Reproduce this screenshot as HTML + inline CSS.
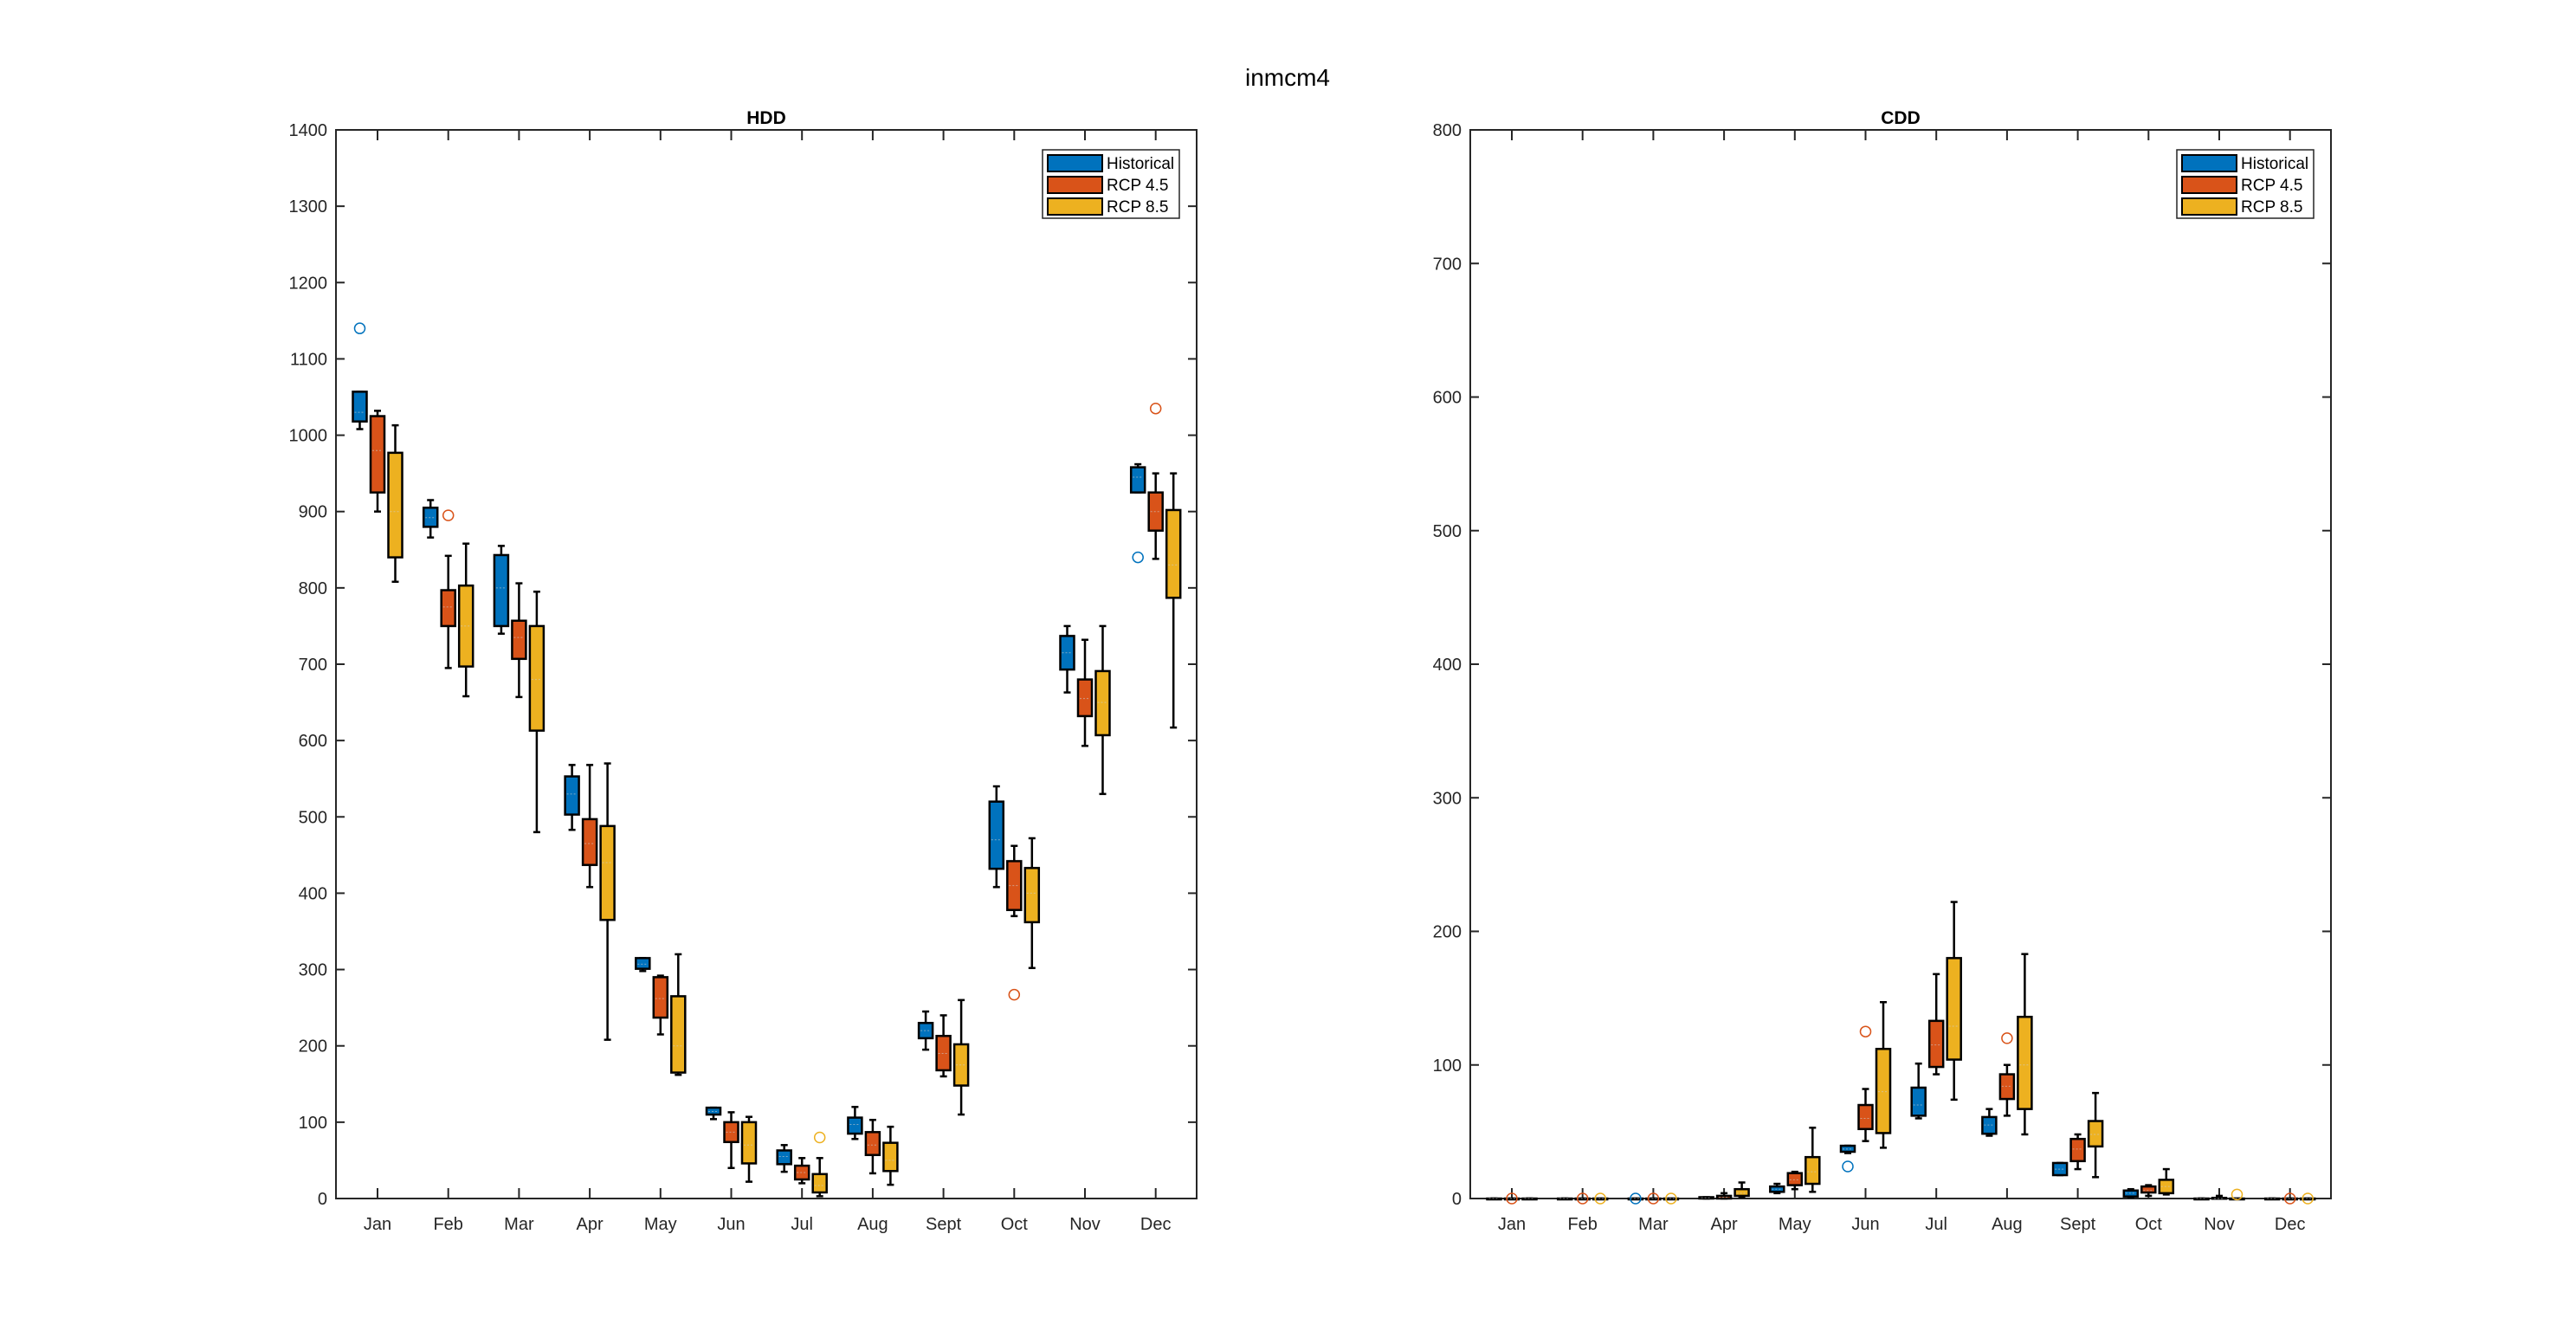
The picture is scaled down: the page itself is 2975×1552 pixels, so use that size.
<!DOCTYPE html>
<html><head><meta charset="utf-8"><style>
html,body{margin:0;padding:0;background:#fff;}
svg{display:block;font-family:"Liberation Sans",sans-serif;}
</style></head><body>
<svg id="fig" width="2975" height="1552" viewBox="0 0 2975 1552">
<rect width="2975" height="1552" fill="#fff"/>
<text x="1487" y="99" font-size="28" text-anchor="middle" fill="#000">inmcm4</text>
</svg>
<script>
const months = ["Jan","Feb","Mar","Apr","May","Jun","Jul","Aug","Sept","Oct","Nov","Dec"];
const seriesNames = ["Historical","RCP 4.5","RCP 8.5"];
// HDD: [lo, q1, median, q3, hi] per month
const hddHist = [[1008,1018,1030,1057,1057],[866,880,892,905,915],[740,750,800,843,855],[483,503,530,553,568],[298,301,307,315,315],[104,110,114,119,119],[35,45,55,63,70],[78,85,97,106,120],[195,210,220,230,245],[408,432,470,520,540],[663,693,715,737,750],[925,925,945,958,962]];
const hddR45 = [[900,925,980,1025,1032],[695,750,775,797,842],[657,707,735,757,806],[408,437,465,497,568],[215,237,262,290,292],[40,74,87,100,113],[20,25,34,43,53],[33,57,70,87,103],[160,168,190,213,240],[370,378,410,442,462],[593,632,655,680,732],[838,875,900,925,950]];
const hddR85 = [[808,840,900,977,1013],[658,697,750,803,858],[480,613,680,750,795],[208,365,440,488,570],[162,165,200,265,320],[22,46,70,100,107],[3,8,17,32,53],[18,36,50,73,94],[110,148,175,202,260],[302,362,400,433,472],[530,607,650,691,750],[617,787,830,902,950]];
const hddOut = [[0,0,1140],[1,1,895],[6,2,80],[9,1,267],[11,0,840],[11,1,1035]]; // [month, series, value]
// CDD
const cddHist = [[0,0,0,0,0],[0,0,0,0,0],[0,0,0,0,0],[0,0,0.5,1,1],[4,5,7,9,11],[34,35,37,39.5,39.5],[60,62,70,83,101],[47,48.5,55,61,67],[17.5,17.5,22,26.6,26.6],[1,1.5,4,6,7],[0,0,0,0,0],[0,0,0,0,0]];
const cddR45 = [[0,0,0,0,0],[0,0,0,0,0],[0,0,0,0,0],[0,0,1,2,4],[7,10,14,19,20],[43,52,60,70,82],[93,98.5,115,133,168],[62,74.5,84,93,100],[22,28,37,44.6,48],[2,4.5,6,9,10],[0,0,0,0.5,2],[0,0,0,0,0]];
const cddR85 = [[0,0,0,0,0],[0,0,0,0,0],[0,0,0,0,0],[1,2,4,7,12],[5,11,20,31,53],[38,49,80,112,147],[74,104,129,180,222],[48,67,100,136,183],[16,39,48,58,79],[3,4,9,14,22],[0,0,0,0,0],[0,0,0,0,0]];
const cddOut = [[0,1,0],[1,1,0],[1,2,0],[2,0,0],[2,1,0],[2,2,0],[5,0,24],[5,1,125],[7,1,120],[10,2,3],[11,1,0],[11,2,0]];
const hddTicks = [0,100,200,300,400,500,600,700,800,900,1000,1100,1200,1300,1400];
const cddTicks = [0,100,200,300,400,500,600,700,800];

const colors = ["#0072BD","#D95319","#EDB120"];
const NS = "http://www.w3.org/2000/svg";
const svg = document.getElementById("fig");
function el(tag, attrs, parent){const e=document.createElementNS(NS,tag);for(const k in attrs)e.setAttribute(k,attrs[k]);(parent||svg).appendChild(e);return e;}

function drawPanel(cfg){
  const L=cfg.left, R=cfg.left+994, T=150, B=1384;
  const g = el("g",{});
  
  
  const xs = m => 436 - 388 + L + (m)*81.7; // month index 0..11
  const ys = v => B - (v/cfg.ymax)*(B-T);
  const t = el("text",{x:(L+R)/2,y:143,"font-size":21,"font-weight":"bold","text-anchor":"middle"},g);
  t.textContent = cfg.title;
  
  
  // box frame
  el("rect",{x:L,y:T,width:R-L,height:B-T,fill:"none",stroke:"#262626","stroke-width":2},g);
  cfg.ticks.forEach(v=>{
    const y=ys(v);
    el("line",{x1:L,x2:L+10,y1:y,y2:y,stroke:"#262626","stroke-width":2},g);
    el("line",{x1:R,x2:R-10,y1:y,y2:y,stroke:"#262626","stroke-width":2},g);
    const lt=el("text",{x:L-10,y:y+7,"font-size":20,"text-anchor":"end",fill:"#262626"},g);
    lt.textContent=v;
    
    
  });
  months.forEach((m,i)=>{
    const x=xs(i);
    el("line",{x1:x,x2:x,y1:B,y2:B-12,stroke:"#262626","stroke-width":2},g);
    el("line",{x1:x,x2:x,y1:T,y2:T+12,stroke:"#262626","stroke-width":2},g);
    const lt=el("text",{x:x,y:B+36,"font-size":20,"text-anchor":"middle",fill:"#262626"},g);
    lt.textContent=m;
    
    
  });
  const off=[-20.5,0,20.5], bw=16;
  cfg.series.forEach((ser,s)=>{
    ser.forEach((d,i)=>{
      const x=xs(i)+off[s];
      const bg=el("g",{},g);
      
      
      el("line",{x1:x,x2:x,y1:ys(d[0]),y2:ys(d[4]),stroke:"#000","stroke-width":2.5},bg);
      el("line",{x1:x-4,x2:x+4,y1:ys(d[0]),y2:ys(d[0]),stroke:"#000","stroke-width":2.5},bg);
      el("line",{x1:x-4,x2:x+4,y1:ys(d[4]),y2:ys(d[4]),stroke:"#000","stroke-width":2.5},bg);
      el("rect",{x:x-bw/2,y:ys(d[3]),width:bw,height:Math.max(1,ys(d[1])-ys(d[3])),fill:colors[s],stroke:"#000","stroke-width":2.5},bg);
      el("line",{x1:x-bw/2+2,x2:x+bw/2-2,y1:ys(d[2]),y2:ys(d[2]),stroke:"#ccc","stroke-width":1,"stroke-dasharray":"2 2",opacity:0.6},bg);
    });
  });
  cfg.outliers.forEach(o=>{
    const c=el("circle",{cx:xs(o[0])+off[o[1]],cy:ys(o[2]),r:6,fill:"none",stroke:colors[o[1]],"stroke-width":1.5},g);
    
    
  });
  // legend
  const lg=el("g",{},g);
  
  
  const lx=R-178, ly=173;
  el("rect",{x:lx,y:ly,width:158,height:79,fill:"#fff",stroke:"#262626","stroke-width":1.5},lg);
  seriesNames.forEach((n,s)=>{
    const ry=ly+5+s*25;
    el("rect",{x:lx+6,y:ry+1,width:63,height:19,fill:colors[s],stroke:"#000","stroke-width":2},lg);
    const tt=el("text",{x:lx+74,y:ry+17,"font-size":19,fill:"#000"},lg);
    tt.textContent=n;
    
    
  });
}
drawPanel({name:"hdd",title:"HDD",left:388,ymax:1400,ticks:hddTicks,series:[hddHist,hddR45,hddR85],outliers:hddOut});
drawPanel({name:"cdd",title:"CDD",left:1698,ymax:800,ticks:cddTicks,series:[cddHist,cddR45,cddR85],outliers:cddOut});
</script>
</body></html>
